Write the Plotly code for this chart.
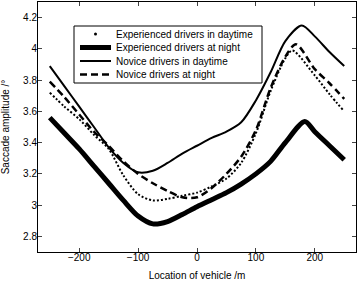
import plotly.graph_objects as go

# Experienced drivers in daytime (dotted)
exp_day_x = [-250, -225, -200, -175, -150, -125, -100, -75, -50, -25, 0, 25, 50, 75, 100, 125, 150, 162, 200, 225, 250]
exp_day_y = [3.72, 3.63, 3.55, 3.45, 3.36, 3.19, 3.07, 3.03, 3.04, 3.06, 3.08, 3.12, 3.17, 3.27, 3.46, 3.73, 3.94, 3.99, 3.83, 3.71, 3.60]

# Experienced drivers at night (thick)
exp_night_x = [-250, -225, -200, -175, -150, -125, -100, -75, -50, -25, 0, 25, 50, 75, 100, 125, 150, 183, 200, 225, 250]
exp_night_y = [3.56, 3.46, 3.36, 3.25, 3.14, 3.03, 2.93, 2.88, 2.895, 2.94, 2.99, 3.035, 3.08, 3.135, 3.20, 3.28, 3.40, 3.535, 3.47, 3.38, 3.29]

# Novice drivers in daytime (thin solid)
nov_day_x = [-250, -225, -200, -175, -150, -125, -100, -75, -50, -25, 0, 25, 50, 75, 100, 125, 150, 178, 200, 225, 250]
nov_day_y = [3.89, 3.76, 3.63, 3.50, 3.37, 3.27, 3.21, 3.22, 3.27, 3.33, 3.38, 3.43, 3.47, 3.53, 3.67, 3.85, 4.05, 4.15, 4.08, 3.98, 3.89]

# Novice drivers at night (dashed)
nov_night_x = [-250, -225, -200, -175, -150, -125, -100, -75, -50, -25, 0, 25, 50, 75, 100, 125, 150, 168, 200, 225, 250]
nov_night_y = [3.79, 3.69, 3.58, 3.47, 3.38, 3.28, 3.20, 3.14, 3.09, 3.05, 3.05, 3.11, 3.20, 3.31, 3.48, 3.75, 3.95, 4.03, 3.87, 3.78, 3.68]

series_names = ["Experienced drivers in daytime", "Experienced drivers at night",
                "Novice drivers in daytime", "Novice drivers at night"]

x_ticks = [-200, -100, 0, 100, 200]
y_ticks = [2.8, 3.0, 3.2, 3.4, 3.6, 3.8, 4.0, 4.2]
y_tick_text = ["2.8", "3", "3.2", "3.4", "3.6", "3.8", "4", "4.2"]

FONT = "Liberation Sans, Arial, Helvetica, sans-serif"
W, H = 359, 281
ML, MR, MT, MB = 38, 3, 2, 29
PW, PH = W - ML - MR, H - MT - MB


def px(xp):
    return (xp - ML) / PW


def py(yp):
    return 1 - (yp - MT) / PH


styles = [
    dict(color="black", width=2, dash="2px,2px"),
    dict(color="black", width=5),
    dict(color="black", width=2),
    dict(color="black", width=2.5, dash="7px,4px"),
]
data = [(exp_day_x, exp_day_y), (exp_night_x, exp_night_y),
        (nov_day_x, nov_day_y), (nov_night_x, nov_night_y)]

fig = go.Figure()
for (xs, ys), name, st in zip(data, series_names, styles):
    fig.add_trace(go.Scatter(x=xs, y=ys, mode="lines", name=name, showlegend=False,
                             line=dict(shape="spline", smoothing=0.8, **st)))

# Legend drawn as a boxed key (MATLAB-style compact rows)
shapes = [dict(type="rect", xref="paper", yref="paper",
               x0=px(74), x1=px(262), y0=py(83), y1=py(26),
               line=dict(color="black", width=1), fillcolor="white", layer="above")]
annotations = []
row_y = [34, 47.5, 61, 74.5]
for i, (name, st) in enumerate(zip(series_names, styles)):
    yy = py(row_y[i])
    if i == 0:
        shapes.append(dict(type="circle", xref="paper", yref="paper",
                           x0=px(94), x1=px(97), y0=py(row_y[i] + 1.5), y1=py(row_y[i] - 1.5),
                           fillcolor="black", line=dict(color="black", width=0), layer="above"))
    else:
        shapes.append(dict(type="line", xref="paper", yref="paper",
                           x0=px(80), x1=px(111), y0=yy, y1=yy,
                           line=dict(color="black", width=st["width"],
                                     dash=st.get("dash", "solid")), layer="above"))
    annotations.append(dict(text=name, xref="paper", yref="paper", x=px(114), y=yy,
                            xanchor="left", yanchor="middle", showarrow=False,
                            font=dict(family=FONT, size=10, color="black")))

fig.update_layout(
    width=W, height=H,
    margin=dict(l=ML, r=MR, t=MT, b=MB),
    paper_bgcolor="white", plot_bgcolor="white",
    font=dict(family=FONT, size=10, color="black"),
    showlegend=False,
    shapes=shapes, annotations=annotations,
)
fig.update_xaxes(range=[-270, 270], tickvals=x_ticks, ticks="inside", ticklen=4,
                 showline=True, linecolor="black", linewidth=1, mirror="ticks",
                 showgrid=False, zeroline=False, automargin=False, ticklabelstandoff=-4,
                 tickfont=dict(size=10, color="black"),
                 title=dict(text="Location of vehicle /m", font=dict(size=10, color="black")))
fig.update_yaxes(range=[2.7, 4.3], tickvals=y_ticks, ticktext=y_tick_text, ticks="inside", ticklen=4,
                 showline=True, linecolor="black", linewidth=1, mirror="ticks",
                 showgrid=False, zeroline=False, automargin=False, ticklabelstandoff=-2,
                 tickfont=dict(size=10, color="black"),
                 title=dict(text="Saccade amplitude /°", font=dict(size=10, color="black")))

fig.write_html("out.html", config={"displayModeBar": False},
               post_script="document.body.style.margin='0';document.body.style.overflow='hidden';")
